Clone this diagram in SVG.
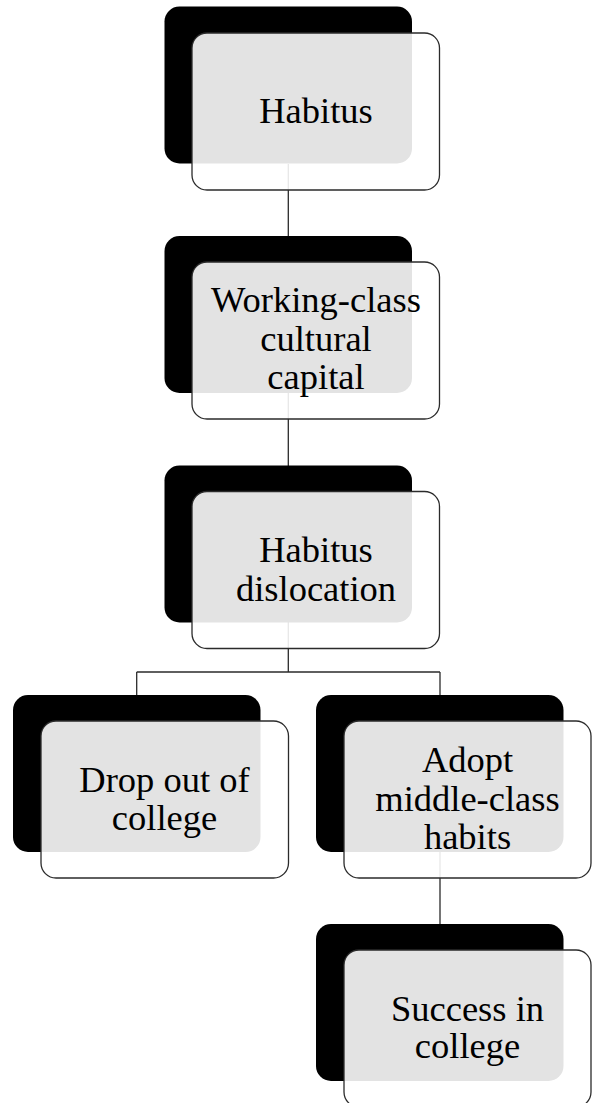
<svg xmlns="http://www.w3.org/2000/svg" width="592" height="1103" viewBox="0 0 592 1103">
<style>
.back{fill:#000000;}
.front{fill:#ffffff;fill-opacity:0.89;stroke:#2b2b2b;stroke-width:1.3;}
.conn{fill:none;stroke:#2b2b2b;stroke-width:1.3;}
text{font-family:"Liberation Serif","Times New Roman",serif;font-size:36.5px;fill:#000000;text-anchor:middle;}
</style>
<rect x="0" y="0" width="592" height="1103" fill="#ffffff"/>
<g id="connectors">
<path class="conn" d="M288.3,164 V236 M288.3,393 V466 M288.3,622 V672 M136.7,672 H440 M136.7,672 V695 M440,672 V695 M440,852 V924"/>
</g>
<g id="node-habitus">
<rect class="back" x="164.5" y="6.5" width="247.5" height="157" rx="15"/>
<rect class="front" x="192" y="33" width="247.5" height="157" rx="15"/>
<text x="316" y="123">Habitus</text>
</g>
<g id="node-working-class">
<rect class="back" x="164.5" y="236" width="247.5" height="157" rx="15"/>
<rect class="front" x="192" y="262" width="247.5" height="157" rx="15"/>
<text x="316" y="312">Working-class</text>
<text x="316" y="351">cultural</text>
<text x="316" y="389">capital</text>
</g>
<g id="node-dislocation">
<rect class="back" x="164.5" y="465.5" width="247.5" height="157" rx="15"/>
<rect class="front" x="192" y="491.5" width="247.5" height="157" rx="15"/>
<text x="316" y="562">Habitus</text>
<text x="316" y="601">dislocation</text>
</g>
<g id="node-dropout">
<rect class="back" x="13" y="695" width="247.5" height="157" rx="15"/>
<rect class="front" x="41" y="721" width="247.5" height="157" rx="15"/>
<text x="164.5" y="791.5">Drop out of</text>
<text x="164.5" y="829.5">college</text>
</g>
<g id="node-adopt">
<rect class="back" x="316" y="695" width="247.5" height="157" rx="15"/>
<rect class="front" x="344" y="721" width="247" height="157" rx="15"/>
<text x="467.5" y="772">Adopt</text>
<text x="467.5" y="810.5">middle-class</text>
<text x="467.5" y="849">habits</text>
</g>
<g id="node-success">
<rect class="back" x="316" y="924" width="247.5" height="157" rx="15"/>
<rect class="front" x="344" y="950" width="247" height="157" rx="15"/>
<text x="467.5" y="1020.5">Success in</text>
<text x="467.5" y="1058">college</text>
</g>
</svg>
